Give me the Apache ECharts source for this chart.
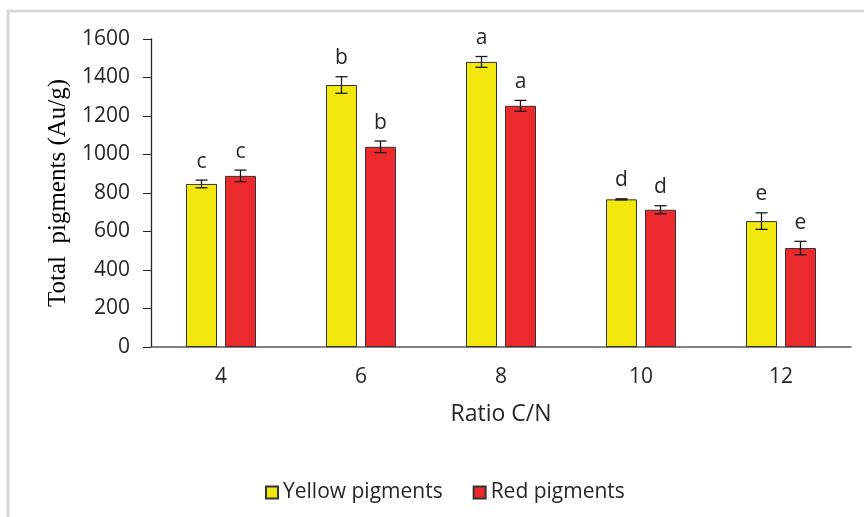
<!DOCTYPE html>
<html>
<head>
<meta charset="utf-8">
<script src="https://cdn.jsdelivr.net/npm/echarts@6/dist/echarts.min.js"></script>
<style>html,body{margin:0;padding:0;background:#fff;}#c{width:864px;height:517px;}</style>
</head>
<body>
<div id="c"></div>
<script>
const categories = ['4', '6', '8', '10', '12'];
const yellowValues = [847, 1361, 1481, 767, 654];
const yellowErrors = [20, 43, 28, 3, 43];
const yellowLetters = ['c', 'b', 'a', 'd', 'e'];
const redValues = [889, 1040, 1253, 713, 514];
const redErrors = [30, 30, 28, 21, 35];
const redLetters = ['c', 'b', 'a', 'd', 'e'];
const yTicks = [0, 200, 400, 600, 800, 1000, 1200, 1400, 1600];

const BAR_W = 31;
const GAP = 8;
const OFF = BAR_W / 2 + GAP / 2;
const font = '"Open Sans", "Noto Sans", sans-serif';

function errSeries(name, values, errors, letters, sign) {
  return {
    type: 'custom',
    name: name + ' err',
    silent: true,
    z: 5,
    data: values.map((v, i) => [i, v, errors[i], letters[i]]),
    renderItem: function (params, api) {
      const i = api.value(0), v = api.value(1), e = api.value(2);
      const c = api.coord([i, v]);
      const x = c[0] + sign * OFF;
      const top = api.coord([i, v + e])[1];
      const bot = api.coord([i, v - e])[1];
      const cap = 6;
      const st = { stroke: '#1a1a1a', lineWidth: 1.3 };
      return {
        type: 'group',
        children: [
          { type: 'line', shape: { x1: x, y1: top, x2: x, y2: bot }, style: st },
          { type: 'line', shape: { x1: x - cap, y1: top, x2: x + cap, y2: top }, style: st },
          { type: 'line', shape: { x1: x - cap, y1: bot, x2: x + cap, y2: bot }, style: st },
          { type: 'text', style: { text: letters[i], x: x, y: top - 8, align: 'center', verticalAlign: 'bottom', font: '21px ' + font, fill: '#262626' } }
        ]
      };
    }
  };
}

const chart = echarts.init(document.getElementById('c'), null, { renderer: 'canvas' });
chart.setOption({
  backgroundColor: '#ffffff',
  animation: false,
  graphic: [
    { type: 'polyline', shape: { points: [[8, 517], [8, 11], [864, 11]] }, style: { stroke: '#d9d9d9', lineWidth: 3, fill: null }, silent: true }
  ],
  grid: { left: 151, right: 13, top: 39, bottom: 170, containLabel: false },
  legend: {
    data: ['Yellow pigments', 'Red pigments'],
    left: 260, top: 477,
    itemWidth: 12, itemHeight: 12, itemGap: 30,
    icon: 'rect',
    textStyle: { fontFamily: font, fontSize: 21, color: '#262626' }
  },
  xAxis: {
    type: 'category',
    data: categories,
    name: 'Ratio C/N',
    nameLocation: 'middle',
    nameGap: 56,
    nameTextStyle: { fontFamily: font, fontSize: 23, color: '#262626' },
    axisLine: { lineStyle: { color: '#595959', width: 1.5 } },
    axisTick: { show: false },
    axisLabel: { fontFamily: font, fontSize: 21, color: '#262626', margin: 20 }
  },
  yAxis: {
    type: 'value',
    min: 0, max: 1600, interval: 200,
    name: 'Total  pigments (Au/g)',
    nameLocation: 'middle',
    nameGap: 80,
    nameTextStyle: { fontFamily: '"Liberation Serif", "Times New Roman", serif', fontSize: 25, color: '#000' },
    axisLine: { show: true, lineStyle: { color: '#262626', width: 1.3 } },
    axisTick: { show: true, length: 8, lineStyle: { color: '#262626' } },
    splitLine: { show: false },
    axisLabel: { fontFamily: font, fontSize: 21, color: '#262626', margin: 21, formatter: v => yTicks.indexOf(v) >= 0 ? String(v) : '' }
  },
  series: [
    { type: 'bar', name: 'Yellow pigments', data: yellowValues, barWidth: BAR_W, barGap: (GAP / BAR_W * 100).toFixed(1) + '%',
      itemStyle: { color: '#f2e80d', borderColor: '#333', borderWidth: 1 } },
    { type: 'bar', name: 'Red pigments', data: redValues, barWidth: BAR_W, barGap: (GAP / BAR_W * 100).toFixed(1) + '%',
      itemStyle: { color: '#ec2a2e', borderColor: '#333', borderWidth: 1 } },
    errSeries('Yellow pigments', yellowValues, yellowErrors, yellowLetters, -1),
    errSeries('Red pigments', redValues, redErrors, redLetters, 1)
  ]
});
</script>
</body>
</html>
